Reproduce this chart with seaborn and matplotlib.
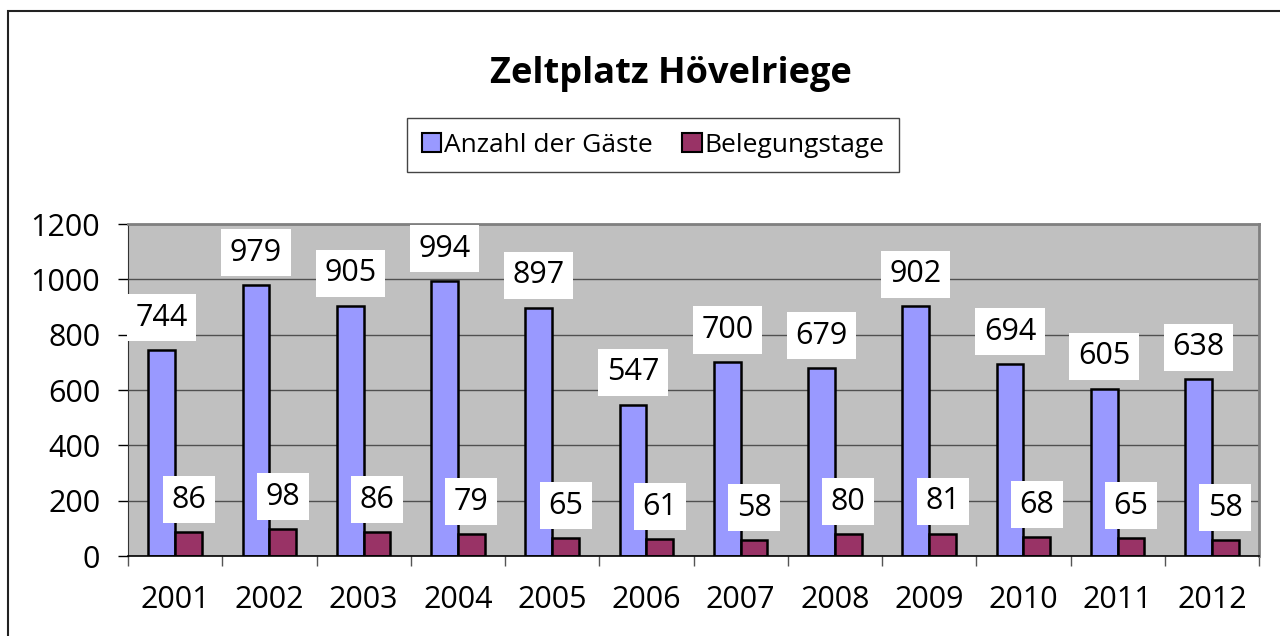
import pandas as pd
import matplotlib.pyplot as plt
import matplotlib.patches as mpatches
import seaborn as sns

# chart data
years = ['2001', '2002', '2003', '2004', '2005', '2006',
         '2007', '2008', '2009', '2010', '2011', '2012']
gaeste = [744, 979, 905, 994, 897, 547, 700, 679, 902, 694, 605, 638]
belegungstage = [86, 98, 86, 79, 65, 61, 58, 80, 81, 68, 65, 58]
series_names = ['Anzahl der Gäste', 'Belegungstage']
colors = ['#9999FF', '#993366']
y_ticks = [0, 200, 400, 600, 800, 1000, 1200]

df = pd.DataFrame({
    'Jahr': years * 2,
    'Serie': [series_names[0]] * len(years) + [series_names[1]] * len(years),
    'Wert': gaeste + belegungstage,
})

plt.rcParams['font.family'] = ['Open Sans', 'DejaVu Sans']

fig = plt.figure(figsize=(12.8, 6.36), dpi=100)
ax = fig.add_axes([128 / 1280, 1 - 556 / 636, (1259 - 128) / 1280, (556 - 224) / 636])
ax.set_facecolor('#C0C0C0')

sns.barplot(data=df, x='Jahr', y='Wert', hue='Serie', order=years,
            hue_order=series_names, palette=colors, width=0.57, gap=0,
            edgecolor='black', linewidth=1.8, saturation=1, legend=False, ax=ax)

# data labels in white boxes
for cont in ax.containers:
    for bar in cont:
        h = bar.get_height()
        ax.annotate(f'{h:.0f}', xy=(bar.get_x() + bar.get_width() / 2, h),
                    xytext=(0, 12.5), textcoords='offset points',
                    ha='center', va='bottom', fontsize=22,
                    bbox=dict(boxstyle='square,pad=0.28', fc='white', ec='none'),
                    zorder=5)

ax.set_ylim(0, 1200)
ax.set_xlim(-0.5, len(years) - 0.5)
ax.set_yticks(y_ticks)
ax.set_xticks(range(len(years)))
ax.set_xticks([i - 0.5 for i in range(len(years) + 1)], minor=True)
ax.tick_params(axis='x', which='major', length=0, labelsize=22, pad=21)
ax.tick_params(axis='x', which='minor', length=7, width=1, color='#555555')
ax.tick_params(axis='y', length=7, width=1, labelsize=22, pad=13)
ax.set_xlabel('')
ax.set_ylabel('')
ax.yaxis.grid(True, color='#505050', linewidth=1)
ax.set_axisbelow(True)

for side in ['top', 'right']:
    ax.spines[side].set_color('#808080')
    ax.spines[side].set_linewidth(2)
ax.spines['left'].set_color('#333333')
ax.spines['bottom'].set_color('black')
ax.spines['bottom'].set_linewidth(1.2)

fig.text(671 / 1280, 1 - 74 / 636, 'Zeltplatz Hövelriege', ha='center',
         va='center', fontsize=26, fontweight='bold')

handles = [mpatches.Patch(facecolor=c, edgecolor='black', linewidth=1.5)
           for c in colors]
leg = fig.legend(handles, series_names, loc='center',
                 bbox_to_anchor=(653 / 1280, 1 - 145 / 636), ncol=2,
                 fontsize=19, handlelength=0.75, handleheight=0.75,
                 handletextpad=0.1, columnspacing=1.1, borderpad=0.55,
                 borderaxespad=0, fancybox=False, framealpha=1,
                 edgecolor='#444444')
leg.get_frame().set_linewidth(1)

# outer chart frame
fig.patches.append(mpatches.Rectangle((8 / 1280, -0.02), 1.05, 1 - 11 / 636 + 0.02,
                                      transform=fig.transFigure, fill=False,
                                      edgecolor='#222222', linewidth=1.5))

fig.savefig('out.png', dpi=100)
